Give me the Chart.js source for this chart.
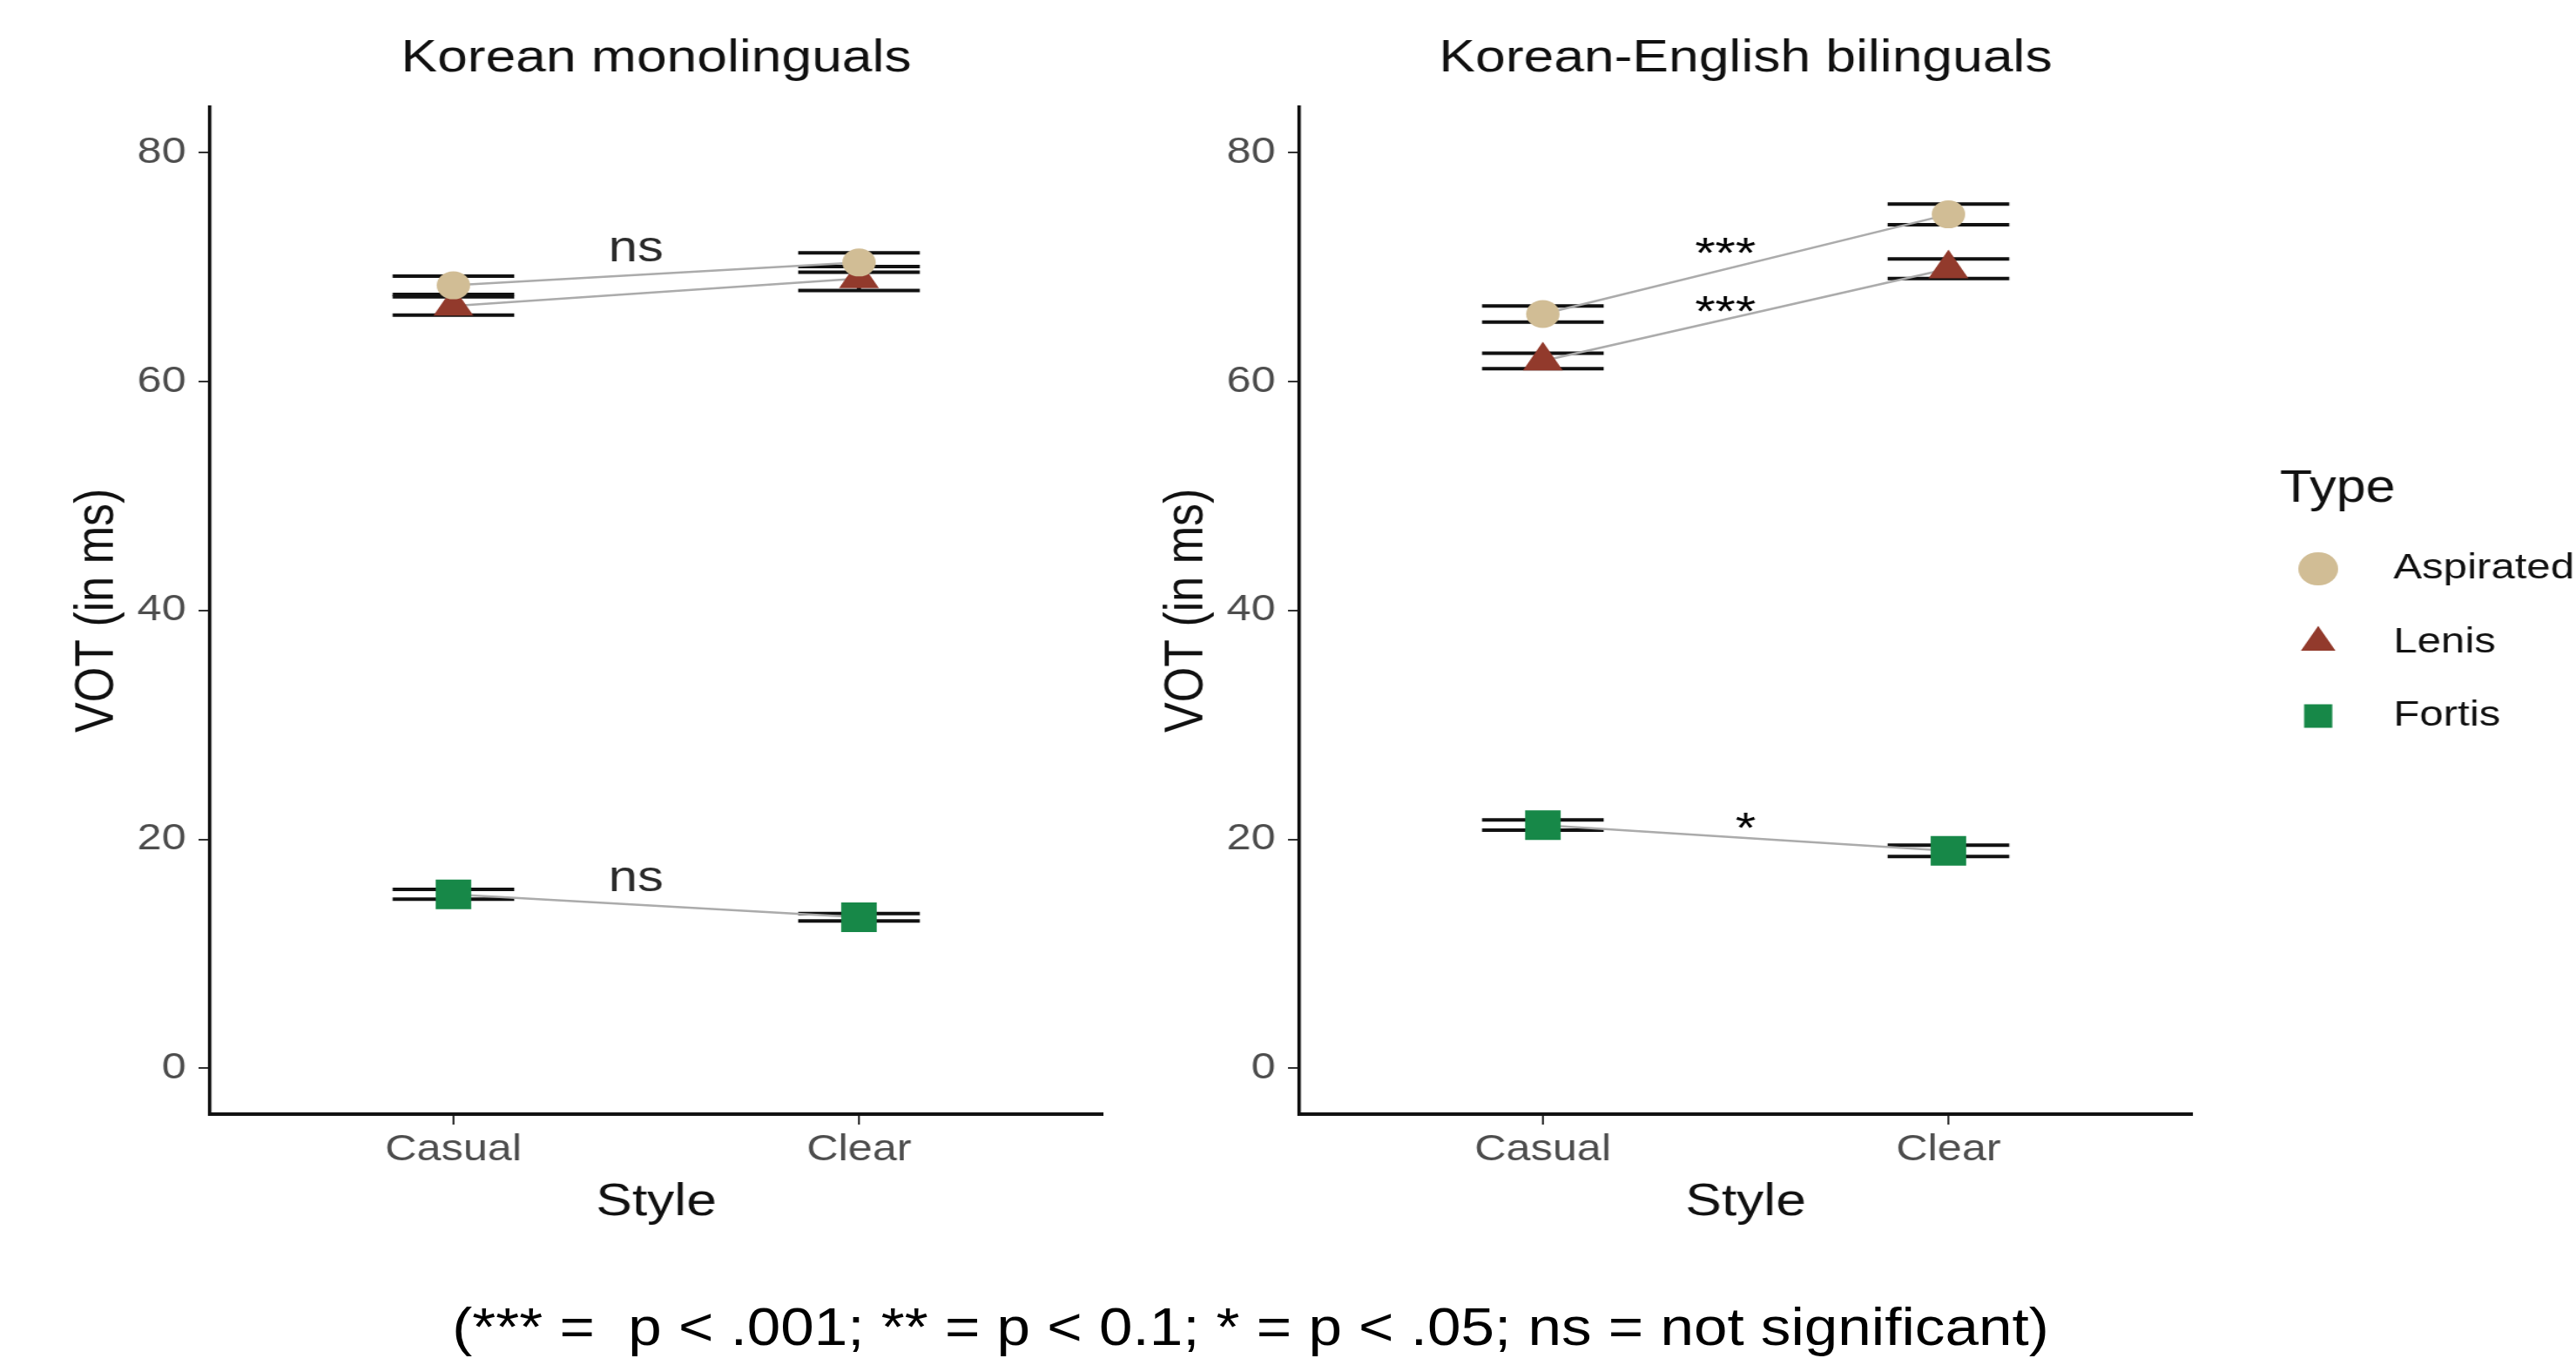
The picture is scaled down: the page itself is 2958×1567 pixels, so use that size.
<!DOCTYPE html>
<html><head><meta charset="utf-8">
<script src="https://cdn.jsdelivr.net/npm/chart.js@4.4.1/dist/chart.umd.min.js"></script>
<style>
html,body{margin:0;padding:0;background:#fff;width:2958px;height:1567px;overflow:hidden;}
body{position:relative;}
canvas{position:absolute;display:block;top:0;}
#caption{position:absolute;white-space:pre;font-family:'Liberation Sans Narrow','Liberation Sans',sans-serif;font-size:62px;line-height:1;color:#000;transform-origin:50% 50%;}
</style></head><body>
<canvas id="mono"></canvas><canvas id="bi"></canvas><canvas id="leg"></canvas>
<div id="caption">(*** =  p &lt; .001; ** = p &lt; 0.1; * = p &lt; .05; ns = not significant)</div>
<script>
// ---------------- data ----------------
const styleCats = ['Casual', 'Clear'];
const styleX = [1, 2];
const typeNames = ['Aspirated', 'Lenis', 'Fortis'];
const yTicks = [0, 20, 40, 60, 80];

const monoAspirated = [68.4, 70.4];  const monoAspiratedSE = [0.8, 0.85];
const monoLenis     = [66.6, 69.0];  const monoLenisSE     = [0.8, 1.05];
const monoFortis    = [15.2, 13.2];  const monoFortisSE    = [0.43, 0.33];

const biAspirated = [65.9, 74.6];    const biAspiratedSE = [0.7, 0.9];
const biLenis     = [61.8, 69.85];   const biLenisSE     = [0.68, 0.85];
const biFortis    = [21.25, 19.0];   const biFortisSE    = [0.45, 0.5];

const monoNoteText = ['ns', 'ns'];
const monoNoteX = [1.45, 1.45];
const monoNoteY = [70.5, 15.5];
const biNoteText = ['***', '***', '*'];
const biNoteX = [1.45, 1.45, 1.5];
const biNoteY = [69.9, 64.8, 19.7];

// ---------------- style ----------------
const FONT = "'Liberation Sans', Arial, sans-serif";
Chart.defaults.font.family = FONT;
const S = 1.2;          // horizontal stretch of the picture
const W = 1256, H = 1440;
const typeColors = ['#d1bd95', '#923a2c', '#178848'];
const typeShapes = ['circle', 'triangle', 'rect'];
const typeRadius = [16, 22, 24];
const CAP = 0.15;

const sigPlugin = {
  id: 'sigNotes',
  afterDatasetsDraw(chart, args, opts) {
    const ctx = chart.ctx, xs = chart.scales.x, ys = chart.scales.y;
    ctx.save();
    ctx.textAlign = 'center';
    ctx.textBaseline = 'alphabetic';
    opts.text.forEach((t, i) => {
      ctx.font = '50px ' + FONT;
      ctx.fillStyle = t === 'ns' ? '#2b2b2b' : '#000';
      ctx.fillText(t, xs.getPixelForValue(opts.x[i]), ys.getPixelForValue(opts.y[i]));
    });
    ctx.restore();
  }
};

function errData(means, ses) {
  const out = [];
  styleX.forEach((x, i) => {
    const hi = means[i] + ses[i], lo = means[i] - ses[i];
    out.push({x: x - CAP, y: hi}, {x: x + CAP, y: hi}, {x: x, y: null});
    out.push({x: x - CAP, y: lo}, {x: x + CAP, y: lo}, {x: x, y: null});
    out.push({x: x, y: hi}, {x: x, y: lo}, {x: x, y: null});
  });
  return out;
}

function makePanel(id, cssLeft, title, series, ses, notes) {
  const cv = document.getElementById(id);
  cv.width = W; cv.height = H;
  cv.style.width = (W * S) + 'px'; cv.style.height = H + 'px';
  cv.style.left = cssLeft + 'px';
  const datasets = [];
  series.forEach((m, t) => {
    datasets.push({
      label: typeNames[t], data: styleX.map((x, i) => ({x, y: m[i]})),
      showLine: false, pointStyle: typeShapes[t], pointRadius: typeRadius[t],
      backgroundColor: typeColors[t], borderColor: typeColors[t], borderWidth: 0, order: 0
    });
    datasets.push({
      label: typeNames[t] + ' trend', data: styleX.map((x, i) => ({x, y: m[i]})),
      showLine: true, pointRadius: 0, borderColor: '#ababab', borderWidth: 2.5, order: 1
    });
    datasets.push({
      label: typeNames[t] + ' error', data: errData(m, ses[t]),
      showLine: true, spanGaps: false, pointRadius: 0, borderColor: '#111', borderWidth: 4, order: 2
    });
  });
  return new Chart(cv, {
    type: 'scatter',
    data: {datasets},
    plugins: [sigPlugin],
    options: {
      responsive: false, animation: false, devicePixelRatio: 1, events: [],
      layout: {padding: {left: 0, right: 201, top: 0, bottom: 0}},
      plugins: {
        legend: {display: false}, tooltip: {enabled: false},
        title: {display: true, fullSize: false, text: title, color: '#111',
          font: {size: 52, weight: 'normal', lineHeight: 1.2}, padding: {top: 36.8, bottom: 23.4}},
        sigNotes: notes
      },
      scales: {
        x: {
          type: 'linear', min: 0.4, max: 2.6,
          afterBuildTicks: s => { s.ticks = styleX.map(v => ({value: v})); },
          afterFit: s => { s.height = 161; },
          ticks: {callback: v => styleCats[styleX.indexOf(v)], color: '#4d4d4d',
            font: {size: 42}, padding: 4, maxRotation: 0, autoSkip: false},
          grid: {drawOnChartArea: false, drawTicks: true, tickLength: 12, color: '#333', lineWidth: 2},
          border: {display: true, color: '#111', width: 4},
          title: {display: true, text: 'Style', color: '#111', font: {size: 52}, padding: {top: 0, bottom: 27.8}}
        },
        y: {
          type: 'linear', min: -4, max: 84,
          afterBuildTicks: s => { s.ticks = yTicks.map(v => ({value: v})); },
          afterFit: s => { s.width = 201; },
          ticks: {color: '#4d4d4d', font: {size: 42}, padding: 12},
          grid: {drawOnChartArea: false, drawTicks: true, tickLength: 11, color: '#333', lineWidth: 2},
          border: {display: true, color: '#111', width: 3.3},
          title: {display: true, text: 'VOT (in ms)', color: '#111', font: {size: 52}, padding: {top: 62.8, bottom: 0}}
        }
      }
    }
  });
}

makePanel('mono', 0, 'Korean monolinguals',
  [monoAspirated, monoLenis, monoFortis], [monoAspiratedSE, monoLenisSE, monoFortisSE],
  {text: monoNoteText, x: monoNoteX, y: monoNoteY});
makePanel('bi', 1250.8, 'Korean-English bilinguals',
  [biAspirated, biLenis, biFortis], [biAspiratedSE, biLenisSE, biFortisSE],
  {text: biNoteText, x: biNoteX, y: biNoteY});

// ---------------- legend ----------------
const lg = document.getElementById('leg');
lg.width = 331; lg.height = 400;
lg.style.width = (331 * S) + 'px'; lg.style.height = '400px';
lg.style.left = '2560px'; lg.style.top = '480px';
new Chart(lg, {
  type: 'scatter',
  data: {datasets: typeNames.map((n, t) => ({label: n, data: [], pointStyle: typeShapes[t],
    backgroundColor: typeColors[t], borderColor: typeColors[t]}))},
  options: {
    responsive: false, animation: false, devicePixelRatio: 1, events: [],
    layout: {padding: {left: 48.3, top: 56.5, right: 0, bottom: 0}},
    scales: {x: {display: false}, y: {display: false}},
    plugins: {
      tooltip: {enabled: false},
      legend: {
        display: true, position: 'left', align: 'start', maxWidth: 331,
        title: {display: true, text: 'Type', color: '#111', position: 'start',
          font: {size: 51, weight: 'normal', lineHeight: 1}, padding: {top: 0, bottom: 28.8}},
        labels: {
          usePointStyle: true, boxWidth: 41, boxHeight: 27, padding: 16.2, color: '#111',
          font: {size: 41, lineHeight: 1.666},
          generateLabels: chart => chart.data.datasets.map((d, i) => ({
            text: ['  \u2009' + d.label], fillStyle: d.backgroundColor, strokeStyle: d.backgroundColor,
            lineWidth: 0, pointStyle: d.pointStyle, hidden: false, datasetIndex: i, fontColor: '#111'
          }))
        }
      }
    }
  }
});

// ---------------- caption ----------------
const cap = document.getElementById('caption');
const cw = cap.offsetWidth;
cap.style.left = '1435.5px';
cap.style.top = '1492px';
cap.style.transform = 'translateX(-50%) scaleX(' + (1833 / cw) + ')';
</script>
</body></html>
